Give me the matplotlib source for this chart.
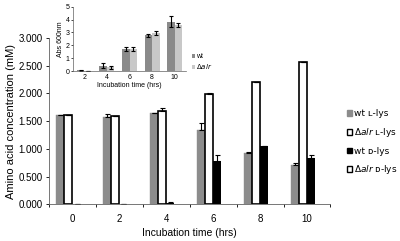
import numpy as np
import matplotlib
matplotlib.use('Agg')
from matplotlib import pyplot as plt
from matplotlib.patches import Patch

plt.rcParams['font.family'] = ['Liberation Sans', 'DejaVu Sans']

# main chart data
times = ['0', '2', '4', '6', '8', '10']
wt_l = [1.61, 1.58, 1.64, 1.34, 0.92, 0.71]
wt_l_err = [0.01, 0.05, 0.01, 0.12, 0.02, 0.04]
alr_l = [1.61, 1.59, 1.69, 1.99, 2.20, 2.57]
alr_l_err = [0.0, 0.01, 0.05, 0.02, 0.01, 0.0]
wt_d = [0.0, 0.0, 0.03, 0.78, 1.06, 0.84]
wt_d_err = [0.0, 0.0, 0.01, 0.11, 0.0, 0.05]
alr_d = [0.0, 0.0, 0.0, 0.0, 0.0, 0.0]

# inset growth data
in_times = ['2', '4', '6', '8', '10']
abs_wt = [0.05, 0.42, 1.72, 2.78, 3.85]
abs_wt_err = [0.02, 0.18, 0.15, 0.14, 0.4]
abs_alr = [0.03, 0.28, 1.72, 2.95, 3.6]
abs_alr_err = [0.01, 0.12, 0.14, 0.15, 0.15]

fig = plt.figure(figsize=(4, 2.41), dpi=100)
ax = fig.add_axes([0.1225, 0.1515, 0.7035, 0.691])

x = np.arange(len(times))
w = 0.175
ek = dict(ecolor='black', elinewidth=0.8, capsize=1.8, capthick=0.8)
ax.bar(x - 1.5*w, wt_l, w, color='#8c8c8c', edgecolor='#8c8c8c', linewidth=0.3,
       yerr=[np.zeros(6), wt_l_err], error_kw=ek)
ax.bar(x - 0.5*w, alr_l, w, color='white', edgecolor='black', linewidth=1.2,
       yerr=[np.zeros(6), alr_l_err], error_kw=ek)
ax.bar(x + 0.5*w, wt_d, w, color='black', linewidth=0,
       yerr=[np.zeros(6), wt_d_err], error_kw=ek)
# Δalr D-lys was not detected; zero bars leave no visible mark
ax.bar(x + 1.5*w, alr_d, w, color='white',
       edgecolor=['black' if v > 0 else 'none' for v in alr_d], linewidth=1.2)

ax.set_xlim(-0.5, 5.5)
ax.set_ylim(0, 3.0)
ax.set_yticks(np.arange(0, 3.01, 0.5))
ax.set_yticklabels(['%.3f' % v for v in np.arange(0, 3.01, 0.5)], fontsize=7)
ax.set_xticks(x)
ax.set_xticklabels(times, fontsize=7)
ax.set_xticks(np.arange(-0.5, 5.6, 1), minor=True)
ax.tick_params(axis='x', which='major', length=0, pad=7)
ax.tick_params(axis='x', which='minor', length=2.5, width=0.6, direction='out')
ax.tick_params(axis='y', length=2.5, width=0.6, pad=2)
ax.spines['top'].set_visible(False)
ax.spines['right'].set_visible(False)
for s in ['left', 'bottom']:
    ax.spines[s].set_linewidth(0.6)
    ax.spines[s].set_color('#606060')
ax.set_xlabel('Incubation time (hrs)', fontsize=7.5, labelpad=3)
ax.set_ylabel('Amino acid concentration (mM)', fontsize=8, labelpad=2)

handles = [Patch(facecolor='#8c8c8c', edgecolor='#8c8c8c'),
           Patch(facecolor='white', edgecolor='black', linewidth=1),
           Patch(facecolor='black', edgecolor='black'),
           Patch(facecolor='white', edgecolor='black', linewidth=1)]
labels = ['wt \u029f-lys', r'$\Delta\mathit{alr}$' + ' \u029f-lys',
          'wt \u1d05-lys', r'$\Delta\mathit{alr}$' + ' \u1d05-lys']
leg = fig.legend(handles, labels, loc='upper left', bbox_to_anchor=(0.855, 0.565),
                 frameon=False, handlelength=0.6, handleheight=0.6,
                 handletextpad=0.25, labelspacing=0.85, borderpad=0,
                 prop={'family': ['DejaVu Sans'], 'size': 6.5})

# inset
ins = fig.add_axes([0.1825, 0.705, 0.2825, 0.267])
xi = np.arange(len(in_times))
wi = 0.33
eki = dict(ecolor='black', elinewidth=0.8, capsize=1.2, capthick=0.8)
ins.bar(xi - wi/2, abs_wt, wi, color='#8a8a8a', yerr=abs_wt_err, error_kw=eki, label='wt')
ins.bar(xi + wi/2, abs_alr, wi, color='#c8c8c8', yerr=abs_alr_err, error_kw=eki,
        label=r'$\Delta\mathit{alr}$')
ins.set_xlim(-0.5, 4.5)
ins.set_ylim(0, 5)
ins.set_yticks(range(6))
ins.set_xticks(xi)
ins.set_xticklabels(in_times)
ins.tick_params(labelsize=5, length=1.5, width=0.5, pad=1)
ins.tick_params(axis='x', length=0, pad=2)
ins.spines['top'].set_visible(False)
ins.spines['right'].set_visible(False)
for s in ['left', 'bottom']:
    ins.spines[s].set_linewidth(0.5)
    ins.spines[s].set_color('#606060')
ins.set_xlabel('Incubation time (hrs)', fontsize=5, labelpad=1)
ins.set_ylabel('Abs 600nm', fontsize=5, labelpad=1)
ins.legend(loc='upper left', bbox_to_anchor=(1.02, 0.33), frameon=False, fontsize=5,
           handlelength=0.4, handleheight=0.4, handletextpad=0.2, labelspacing=0.3,
           borderpad=0)

plt.savefig('out.png', dpi=100)
